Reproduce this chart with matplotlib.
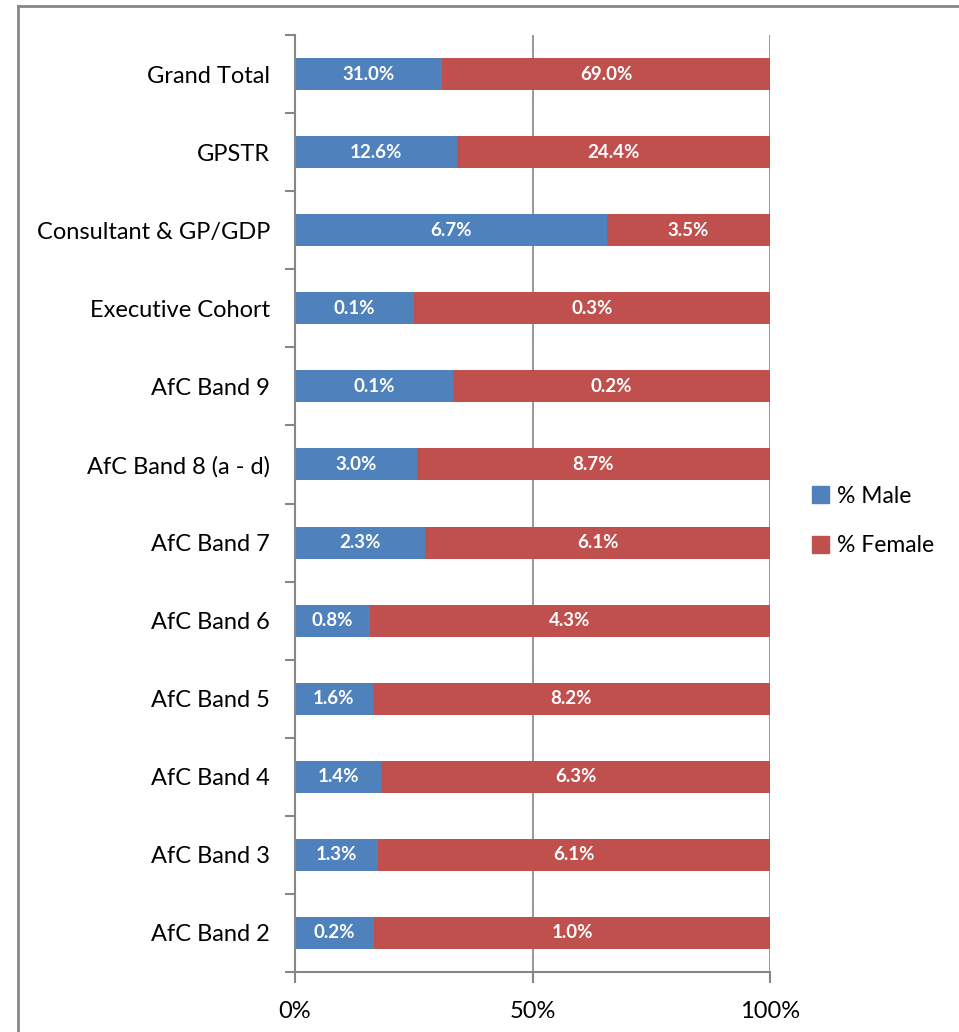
import numpy as np
import matplotlib
matplotlib.use("Agg")
import matplotlib.pyplot as plt
from matplotlib.patches import Patch
from matplotlib.lines import Line2D

plt.rcParams['font.family'] = ['Lato', 'DejaVu Sans']

categories = ["Grand Total", "GPSTR", "Consultant & GP/GDP", "Executive Cohort",
              "AfC Band 9", "AfC Band 8 (a - d)", "AfC Band 7", "AfC Band 6",
              "AfC Band 5", "AfC Band 4", "AfC Band 3", "AfC Band 2"]
male_pct = [31.0, 12.6, 6.7, 0.1, 0.1, 3.0, 2.3, 0.8, 1.6, 1.4, 1.3, 0.2]
female_pct = [69.0, 24.4, 3.5, 0.3, 0.2, 8.7, 6.1, 4.3, 8.2, 6.3, 6.1, 1.0]

blue = "#4F81BD"
red = "#C0504D"
axis_grey = "#868686"

male = np.array(male_pct)
female = np.array(female_pct)
total = male + female
male_share = male / total
female_share = female / total

fig = plt.figure(figsize=(9.59, 10.32), dpi=100)
ax = fig.add_axes([295 / 959, 1 - 972 / 1032, 475 / 959, 937 / 1032])

y = np.arange(len(categories))[::-1]
ax.barh(y, male_share, height=0.41, color=blue, label="% Male")
ax.barh(y, female_share, left=male_share, height=0.41, color=red, label="% Female")

for yi, m, f, ms, fs in zip(y, male_pct, female_pct, male_share, female_share):
    ax.text(ms / 2, yi, f"{m:.1f}%", ha='center', va='center',
            color='white', fontsize=13.5, fontweight='bold')
    ax.text(ms + fs / 2, yi, f"{f:.1f}%", ha='center', va='center',
            color='white', fontsize=13.5, fontweight='bold')

ax.set_xlim(0, 1)
ax.set_ylim(-0.5, len(categories) - 0.5)

# category labels on centres, tick marks on the boundaries
ax.set_yticks(y)
ax.set_yticklabels(categories, fontsize=17)
ax.set_yticks(np.arange(-0.5, len(categories)), minor=True)
ax.tick_params(axis='y', which='major', length=0, pad=18)
ax.tick_params(axis='y', which='minor', length=7, width=1.5, color=axis_grey, direction='out')

ax.set_xticks([0, 0.5, 1.0])
ax.set_xticklabels(["0%", "50%", "100%"], fontsize=17)
ax.tick_params(axis='x', length=8, width=1.5, color=axis_grey, pad=13)

for s in ['top', 'right']:
    ax.spines[s].set_visible(False)
for s in ['left', 'bottom']:
    ax.spines[s].set_color(axis_grey)
    ax.spines[s].set_linewidth(1.5)

ax.xaxis.grid(True, color=axis_grey, linewidth=1.2)
ax.set_axisbelow(True)

handles = [Patch(color=blue, label="% Male"), Patch(color=red, label="% Female")]
fig.legend(handles=handles, loc='center left',
           bbox_to_anchor=(812 / 959, 1 - 521 / 1032), frameon=False,
           fontsize=16.5, handlelength=0.75, handleheight=0.75,
           handletextpad=0.35, labelspacing=1.25, borderpad=0, borderaxespad=0)

# outer chart frame
fig.add_artist(Line2D([18 / 959, 1], [1 - 6 / 1032, 1 - 6 / 1032],
                      transform=fig.transFigure, color=axis_grey, linewidth=2))
fig.add_artist(Line2D([18 / 959, 18 / 959], [0, 1 - 6 / 1032],
                      transform=fig.transFigure, color=axis_grey, linewidth=2))

fig.savefig("out.png", dpi=100, facecolor='white')
